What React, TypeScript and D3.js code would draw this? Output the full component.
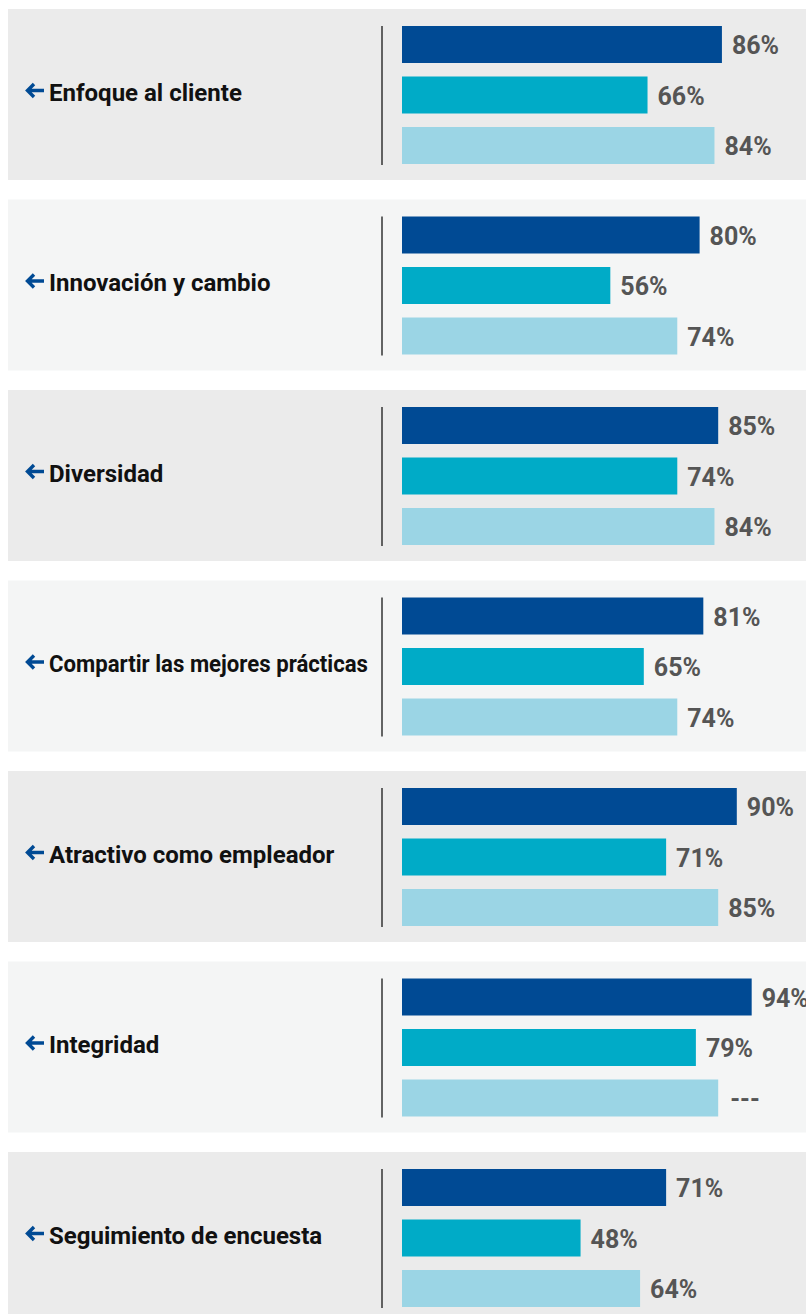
import React from "react";
import * as d3 from "d3";

const categories = [
  "Enfoque al cliente",
  "Innovación y cambio",
  "Diversidad",
  "Compartir las mejores prácticas",
  "Atractivo como empleador",
  "Integridad",
  "Seguimiento de encuesta",
];

const seriesKeys = ["s1", "s2", "s3"];
const series1 = [86, 80, 85, 81, 90, 94, 71];
const series2 = [66, 56, 74, 65, 71, 79, 48];
const series3 = [84, 74, 84, 74, 85, 85, 64];
const series3Labels = ["84%", "74%", "84%", "74%", "85%", "---", "64%"];

const W = 806;
const H = 1314;
const colors = ["#004a94", "#00abc7", "#9bd5e5"];
const panelFills = ["#ebebeb", "#f4f5f5"];
const LABEL_FONT = "bold 24px Roboto";
const LABEL_MAX = 319;

function measure(text: string): number {
  try {
    const ctx = document.createElement("canvas").getContext("2d");
    if (!ctx) return 0;
    ctx.font = LABEL_FONT;
    return ctx.measureText(text).width;
  } catch {
    return 0;
  }
}

export default function App() {
  const panelY = d3
    .scaleBand<string>()
    .domain(categories)
    .range([9, 9 + 190.5 * 6 + 171])
    .paddingInner(19.5 / 190.5)
    .paddingOuter(0);
  const barY = d3
    .scaleBand<string>()
    .domain(seriesKeys)
    .range([17, 155])
    .paddingInner(13.5 / 50.5)
    .paddingOuter(0);
  const x = d3.scaleLinear().domain([0, 100]).range([402, 774]);

  const rows = categories.map((c, i) => ({
    cat: c,
    vals: [series1[i], series2[i], series3[i]],
    labels: [`${series1[i]}%`, `${series2[i]}%`, series3Labels[i]],
  }));

  return (
    <div style={{ position: "absolute", left: 0, top: 0 }}>
      <svg width={W} height={H} style={{ display: "block" }}>
        <rect x={0} y={0} width={W} height={H} fill="#ffffff" />
        {rows.map((r, i) => {
          const y0 = panelY(r.cat)!;
          const ph = panelY.bandwidth();
          const cy = y0 + ph / 2 - 4;
          const tw = measure(r.cat);
          const squeeze = tw > LABEL_MAX;
          return (
            <g key={r.cat}>
              <rect x={8} y={y0} width={W - 8} height={ph} fill={panelFills[i % 2]} />
              <path
                d={`M${44},${cy} L${28},${cy} M${34},${cy - 6.5} L${27.5},${cy} L${34},${cy + 6.5}`}
                stroke="#004a94"
                strokeWidth={3.4}
                fill="none"
                strokeLinecap="butt"
                strokeLinejoin="miter"
              />
              <text
                x={49}
                y={cy + 10}
                fontFamily="Roboto, sans-serif"
                fontWeight="bold"
                fontSize={24}
                fill="#111111"
                {...(squeeze
                  ? { textLength: LABEL_MAX, lengthAdjust: "spacingAndGlyphs" }
                  : {})}
              >
                {r.cat}
              </text>
              <line
                x1={382}
                x2={382}
                y1={y0 + 17}
                y2={y0 + 156}
                stroke="#333333"
                strokeWidth={1.5}
              />
              {seriesKeys.map((k, j) => {
                const by = y0 + barY(k)!;
                const bh = barY.bandwidth();
                const isDash = r.labels[j] === "---";
                return (
                  <g key={k}>
                    <rect
                      x={x(0)}
                      y={by}
                      width={x(r.vals[j]) - x(0)}
                      height={bh}
                      fill={colors[j]}
                    />
                    <text
                      x={x(r.vals[j]) + (isDash ? 12 : 10)}
                      y={by + bh / 2 + 9.5}
                      fontFamily="Roboto, sans-serif"
                      fontWeight="bold"
                      fontSize={25}
                      fill="#555555"
                    >
                      {r.labels[j]}
                    </text>
                  </g>
                );
              })}
            </g>
          );
        })}
      </svg>
    </div>
  );
}
